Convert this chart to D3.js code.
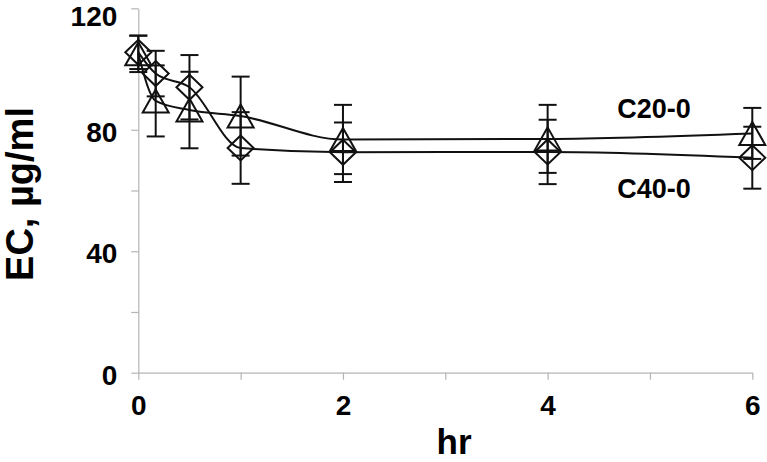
<!DOCTYPE html>
<html>
<head>
<meta charset="utf-8">
<script src="https://cdn.jsdelivr.net/npm/d3@7"></script>
<style>
body { margin: 0; background: #fff; }
text { font-family: "Liberation Sans", Arial, sans-serif; font-weight: bold; fill: #000; }
</style>
</head>
<body>
<script>
// sampling times (hr)
const hours = [0, 0.17, 0.5, 1, 2, 4, 6];
// C20-0 (triangles)
const c20 = [105, 89.5, 86.5, 84.5, 76.8, 77, 78.8];
const c20Err = [6, 11.7, 12.6, 13, 11.4, 11.2, 8.4];
// C40-0 (diamonds)
const c40 = [105.5, 98.5, 94, 74, 72.6, 72.7, 70.8];
const c40Err = [5.5, 7.5, 10.6, 11.8, 9.8, 10.6, 10.2];

const xTicks = [0, 1, 2, 3, 4, 5, 6];
const yTicks = [0, 20, 40, 60, 80, 100, 120];

const width = 767, height = 462;

const svg = d3.select("body").append("svg")
    .attr("width", width)
    .attr("height", height);

const x = d3.scaleLinear().domain([0, 6]).range([138.3, 752.3]);
const y = d3.scaleLinear().domain([0, 120]).range([372.7, 8.3]);

// axes
const xAxis = svg.append("g")
    .attr("transform", `translate(0,${y(0)})`)
    .call(d3.axisBottom(x).tickValues(xTicks).tickSize(7).tickSizeOuter(0).tickPadding(15)
        .tickFormat(d => d % 2 === 0 ? d : ""));
const yAxis = svg.append("g")
    .attr("transform", `translate(${x(0)},0)`)
    .call(d3.axisLeft(y).tickValues(yTicks).tickSize(7).tickSizeOuter(0).tickPadding(14)
        .tickFormat(d => d % 40 === 0 ? d : ""));

[xAxis, yAxis].forEach(a => {
    a.select(".domain").attr("stroke", "#b4b4b4").attr("stroke-width", 1.2);
    a.selectAll(".tick line").attr("stroke", "#b4b4b4").attr("stroke-width", 1.2);
    a.selectAll(".tick text").style("font-size", "28px").attr("font-family", null);
});
yAxis.selectAll(".tick text").attr("dy", d => d === 120 ? "0.62em" : "0.42em");

// axis titles
svg.append("text")
    .attr("transform", "translate(33,194) rotate(-90)")
    .attr("text-anchor", "middle")
    .style("font-size", "38px")
    .text("EC, µg/ml");

svg.append("text")
    .attr("x", 454).attr("y", 454)
    .attr("text-anchor", "middle")
    .style("font-size", "35px")
    .text("hr");

const series = [
    { name: "C20-0", vals: c20, err: c20Err, shape: "tri", labelY: 118 },
    { name: "C40-0", vals: c40, err: c40Err, shape: "dia", labelY: 198 }
];

const line = d3.line()
    .x(d => x(d[0]))
    .y(d => y(d[1]))
    .curve(d3.curveMonotoneX);

const triPath = "M0,-11.5L13,11.5L-13,11.5Z";
const diaPath = "M0,-12.5L13,0L0,12.5L-13,0Z";

series.forEach(s => {
    const pts = hours.map((h, i) => [h, s.vals[i], s.err[i]]);

    svg.append("path")
        .datum(pts)
        .attr("fill", "none")
        .attr("stroke", "#111")
        .attr("stroke-width", 2)
        .attr("d", line);

    const eb = svg.append("g").selectAll("g")
        .data(pts)
        .enter()
        .append("g")
        .attr("stroke", "#111")
        .attr("stroke-width", 2);
    eb.append("line")
        .attr("x1", d => x(d[0])).attr("x2", d => x(d[0]))
        .attr("y1", d => y(d[1] + d[2])).attr("y2", d => y(d[1] - d[2]));
    eb.append("line")
        .attr("x1", d => x(d[0]) - 9).attr("x2", d => x(d[0]) + 9)
        .attr("y1", d => y(d[1] + d[2])).attr("y2", d => y(d[1] + d[2]));
    eb.append("line")
        .attr("x1", d => x(d[0]) - 9).attr("x2", d => x(d[0]) + 9)
        .attr("y1", d => y(d[1] - d[2])).attr("y2", d => y(d[1] - d[2]));

    svg.append("g").selectAll("path")
        .data(pts)
        .enter()
        .append("path")
        .attr("d", s.shape === "tri" ? triPath : diaPath)
        .attr("transform", d => `translate(${x(d[0])},${y(d[1])})`)
        .attr("fill", "none")
        .attr("stroke", "#111")
        .attr("stroke-width", 2);

    svg.append("text")
        .attr("x", 654).attr("y", s.labelY)
        .attr("text-anchor", "middle")
        .style("font-size", "27px")
        .text(s.name);
});
</script>
</body>
</html>
